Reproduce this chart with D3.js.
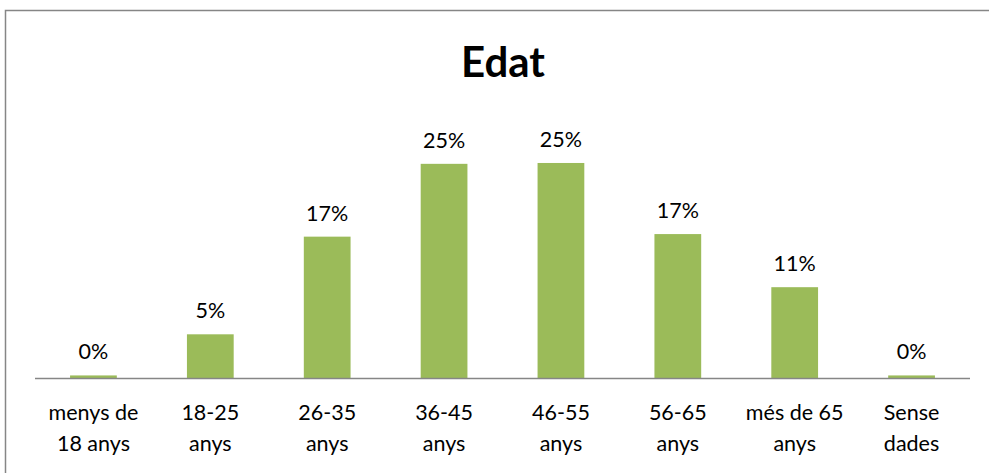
<!DOCTYPE html>
<html>
<head>
<meta charset="utf-8">
<script src="https://cdn.jsdelivr.net/npm/d3@7"></script>
<style>
  body { margin: 0; background: #fff; }
  svg { font-family: Lato, "Open Sans", sans-serif; }
</style>
</head>
<body>
<div id="chart"></div>
<script>
const categories = [['menys de', '18 anys'], ['18-25', 'anys'], ['26-35', 'anys'], ['36-45', 'anys'],
  ['46-55', 'anys'], ['56-65', 'anys'], ['més de 65', 'anys'], ['Sense', 'dades']];
const values = [0.003, 0.051, 0.165, 0.250, 0.251, 0.168, 0.106, 0.003];
const title = 'Edat';

const width = 989, height = 473;
const axisY = 378;
const left = 35, right = 970;

const svg = d3.select('#chart').append('svg')
    .attr('width', width)
    .attr('height', height);

// outer chart border
svg.append('rect')
    .attr('x', 5.5).attr('y', 10.5)
    .attr('width', width + 10).attr('height', height + 10)
    .attr('fill', 'none')
    .attr('stroke', '#868686')
    .attr('stroke-width', 1.5);

svg.append('text')
    .attr('x', 503).attr('y', 77)
    .attr('text-anchor', 'middle')
    .attr('font-weight', 'bold')
    .attr('font-size', 42)
    .text(title);

const x = d3.scaleBand()
    .domain(d3.range(categories.length))
    .range([left, right])
    .paddingInner(0.6)
    .paddingOuter(0.3);

const y = d3.scaleLinear()
    .domain([0, 0.30])
    .range([axisY, axisY - 257]);

svg.selectAll('rect.bar')
    .data(values)
    .enter().append('rect')
    .attr('class', 'bar')
    .attr('x', (d, i) => x(i))
    .attr('width', x.bandwidth())
    .attr('y', d => y(d))
    .attr('height', d => y(0) - y(d))
    .attr('fill', '#9BBB59');

const fmt = d3.format('.0%');
svg.selectAll('text.val')
    .data(values)
    .enter().append('text')
    .attr('class', 'val')
    .attr('x', (d, i) => x(i) + x.bandwidth() / 2)
    .attr('y', d => y(d) - 16)
    .attr('text-anchor', 'middle')
    .attr('font-size', 21.5)
    .text(d => fmt(d));

// axis line
svg.append('line')
    .attr('x1', left).attr('x2', right)
    .attr('y1', axisY + 0.5).attr('y2', axisY + 0.5)
    .attr('stroke', '#868686')
    .attr('stroke-width', 1.5);

const catLabels = svg.selectAll('text.cat')
    .data(categories)
    .enter().append('text')
    .attr('class', 'cat')
    .attr('text-anchor', 'middle')
    .attr('font-size', 21.5);

catLabels.selectAll('tspan')
    .data((d, i) => d.map(t => ({t, i})))
    .enter().append('tspan')
    .attr('x', d => x(d.i) + x.bandwidth() / 2)
    .attr('y', (d, j) => 420 + j * 31)
    .text(d => d.t);
</script>
</body>
</html>
